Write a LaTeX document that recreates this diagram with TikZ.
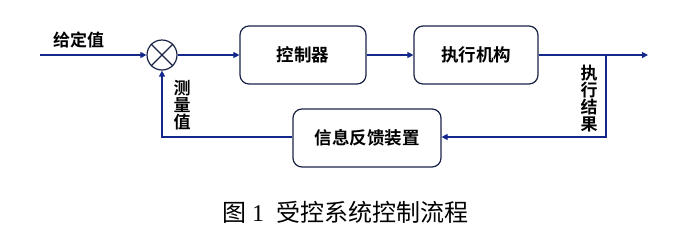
\documentclass[tikz,border=0pt]{standalone}
\usepackage{fontspec}
\setmainfont{Liberation Serif}
\newfontfamily\cjk{Noto Sans CJK SC}
\newfontfamily\cjkb{Noto Sans CJK SC Bold}
\usetikzlibrary{arrows.meta}
\definecolor{lineblue}{RGB}{20,40,140}
\definecolor{boxborder}{RGB}{25,35,70}
\tikzset{
  blockbox/.style={draw=boxborder,line width=1.2pt,rounded corners=9pt,minimum width=126pt,minimum height=58pt,inner sep=0pt,font=\cjkb\fontsize{17.5}{17.5}\selectfont},
  conn/.style={draw=lineblue,line width=1.1pt,-{Triangle[length=6pt,width=6pt]}},
  lab/.style={font=\cjkb\fontsize{17}{17}\selectfont,inner sep=0pt,align=center}
}
\begin{document}
\begin{tikzpicture}[x=1pt,y=-1pt]
\useasboundingbox (0,0) rectangle (700,244);
\coordinate (in) at (40,55);
\node[draw=boxborder,line width=1.2pt,circle,minimum size=30pt,inner sep=0pt] (sum) at (162,55) {};
\draw[boxborder,line width=1.2pt] (sum.north west) -- (sum.south east) (sum.north east) -- (sum.south west);
\node[blockbox] (ctrl) at (303,55) {控制器};
\node[blockbox,minimum width=124pt] (act) at (476,55) {执行机构};
\node[blockbox,minimum width=148pt] (fb) at (367,138) {信息反馈装置};
\coordinate (out) at (648,55);
\coordinate (br) at (606,55);
\coordinate (brd) at (606,137);
\coordinate (fl) at (162,137);
\draw[conn] (in) -- (sum.west);
\draw[conn] (sum.east) -- (ctrl.west);
\draw[conn] (ctrl.east) -- (act.west);
\draw[conn] (act.east) -- (out);
\draw[conn] (br) -- (brd) -- (fb.east |- brd);
\draw[conn] (fb.west |- fl) -- (fl) -- (sum.south);
\node[lab,anchor=south west] (gd) at (53,48) {给定值};
\node[lab] (cl) at (182,105) {测\\量\\值};
\node[lab] (zx) at (589,99) {执\\行\\结\\果};
\node[font=\fontsize{24}{24}\selectfont] (cap) at (345,212) {{\cjk 图}\ 1\ \ {\cjk 受控系统控制流程}};
\end{tikzpicture}
\end{document}
